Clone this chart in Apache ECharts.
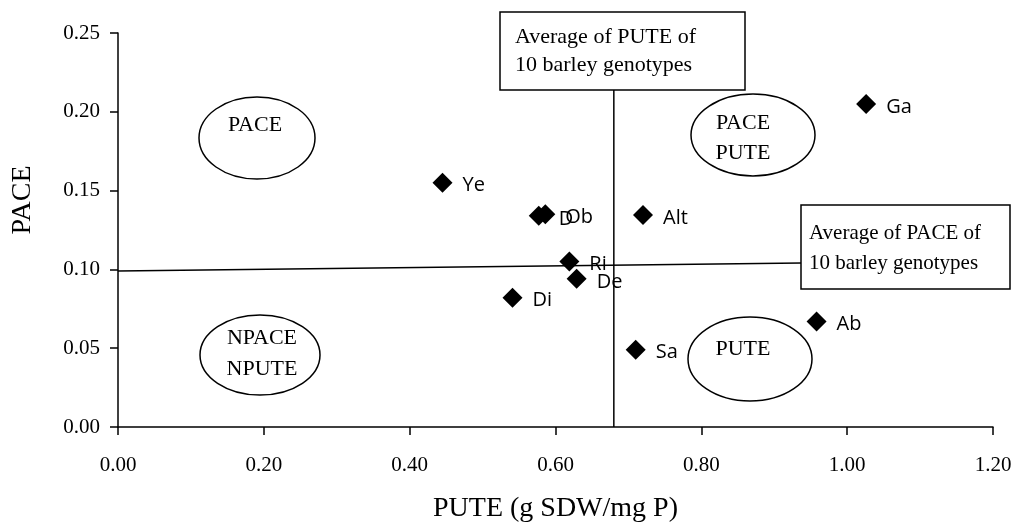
<!DOCTYPE html>
<html>
<head>
<meta charset="utf-8">
<script src="https://cdn.jsdelivr.net/npm/echarts@6/dist/echarts.min.js"></script>
<style>
html,body{margin:0;padding:0;background:#fff;}
#chart{width:1011px;height:526px;}
</style>
</head>
<body>
<div id="chart"></div>
<script>
// Genotype data
var genotypes = ['Ye', 'D', 'Ob', 'Alt', 'Ri', 'De', 'Di', 'Sa', 'Ab', 'Ga'];
var puteValues = [0.445, 0.577, 0.586, 0.720, 0.619, 0.629, 0.541, 0.710, 0.958, 1.026];
var paceValues = [0.155, 0.134, 0.135, 0.1345, 0.105, 0.094, 0.082, 0.049, 0.067, 0.205];

// Average reference lines
var avgPuteX = [0.680, 0.680];
var avgPuteY = [0, 0.214];
var avgPaceX = [0, 0.937];
var avgPaceY = [0.099, 0.104];

// Axis ticks
var xTicks = [0, 0.2, 0.4, 0.6, 0.8, 1.0, 1.2];
var yTicks = [0, 0.05, 0.10, 0.15, 0.20, 0.25];

var serif = '"Liberation Serif", "Times New Roman", serif';
var sans = '"Open Sans", "Noto Sans", sans-serif';

var chart = echarts.init(document.getElementById('chart'), null, {renderer: 'canvas'});

var points = genotypes.map(function (g, i) { return {name: g, value: [puteValues[i], paceValues[i]]}; });

function ellipse(cx, cy, rx, ry) {
  return {type: 'ellipse', shape: {cx: cx, cy: cy, rx: rx, ry: ry}, style: {fill: 'rgba(255,255,255,0)', stroke: '#000', lineWidth: 1.5}, z: 10};
}
function txt(x, y, s, size, align) {
  return {type: 'text', x: x, y: y, style: {text: s, font: size + 'px ' + serif, fill: '#000', align: align || 'center', verticalAlign: 'middle'}, z: 11};
}

var option = {
  animation: false,
  backgroundColor: '#fff',
  grid: {left: 118, right: 18, top: 33, bottom: 99, containLabel: false, outerBoundsMode: 'none'},
  xAxis: {
    type: 'value', min: 0, max: 1.2, interval: 0.2,
    name: 'PUTE (g SDW/mg P)', nameLocation: 'middle', nameGap: 68,
    nameTextStyle: {fontFamily: serif, fontSize: 28, color: '#000'},
    axisLine: {show: true, lineStyle: {color: '#000', width: 1.5}},
    axisTick: {show: true, inside: false, length: 8, lineStyle: {color: '#000', width: 1.5}},
    axisLabel: {formatter: function (v) { return v.toFixed(2); }, fontFamily: serif, fontSize: 21, color: '#000', margin: 28},
    splitLine: {show: false}
  },
  yAxis: {
    type: 'value', min: 0, max: 0.25, interval: 0.05,
    axisLine: {show: true, lineStyle: {color: '#000', width: 1.5}},
    axisTick: {show: true, inside: false, length: 8, lineStyle: {color: '#000', width: 1.5}},
    axisLabel: {formatter: function (v) { return v.toFixed(2); }, fontFamily: serif, fontSize: 21, color: '#000', margin: 18},
    splitLine: {show: false}
  },
  series: [
    {
      type: 'line', data: avgPuteX.map(function (x, i) { return [x, avgPuteY[i]]; }),
      symbol: 'none', lineStyle: {color: '#000', width: 1.5}, z: 3, silent: true
    },
    {
      type: 'line', data: avgPaceX.map(function (x, i) { return [x, avgPaceY[i]]; }),
      symbol: 'none', lineStyle: {color: '#000', width: 1.5}, z: 3, silent: true
    },
    {
      type: 'scatter', data: points, symbol: 'diamond', symbolSize: 20,
      itemStyle: {color: '#000', opacity: 1}, z: 5,
      label: {show: true, position: 'right', distance: 10, formatter: '{b}', fontFamily: sans, fontSize: 20, color: '#000', opacity: 1, offset: [0, 3]}
    }
  ],
  graphic: [
    // y axis title
    {type: 'text', x: 23, y: 200, rotation: Math.PI / 2, style: {text: 'PACE', font: '28px ' + serif, fill: '#000', align: 'center', verticalAlign: 'middle'}},
    // quadrant ellipses
    ellipse(257, 138, 58, 41), txt(255, 125, 'PACE', 22),
    ellipse(753, 135, 62, 41), txt(743, 123, 'PACE', 22), txt(743, 153, 'PUTE', 22),
    ellipse(260, 355, 60, 40), txt(262, 338, 'NPACE', 22), txt(262, 369, 'NPUTE', 22),
    ellipse(750, 359, 62, 42), txt(743, 349, 'PUTE', 22),
    // average boxes
    {type: 'rect', shape: {x: 500, y: 12, width: 245, height: 78}, style: {fill: '#fff', stroke: '#000', lineWidth: 1.5}, z: 10},
    txt(515, 37, 'Average of PUTE of', 22, 'left'), txt(515, 65, '10 barley genotypes', 22, 'left'),
    {type: 'rect', shape: {x: 801, y: 205, width: 209, height: 84}, style: {fill: '#fff', stroke: '#000', lineWidth: 1.5}, z: 10},
    txt(809, 233, 'Average of PACE of', 21, 'left'), txt(809, 263, '10 barley genotypes', 21, 'left')
  ]
};
chart.setOption(option);
</script>
</body>
</html>
